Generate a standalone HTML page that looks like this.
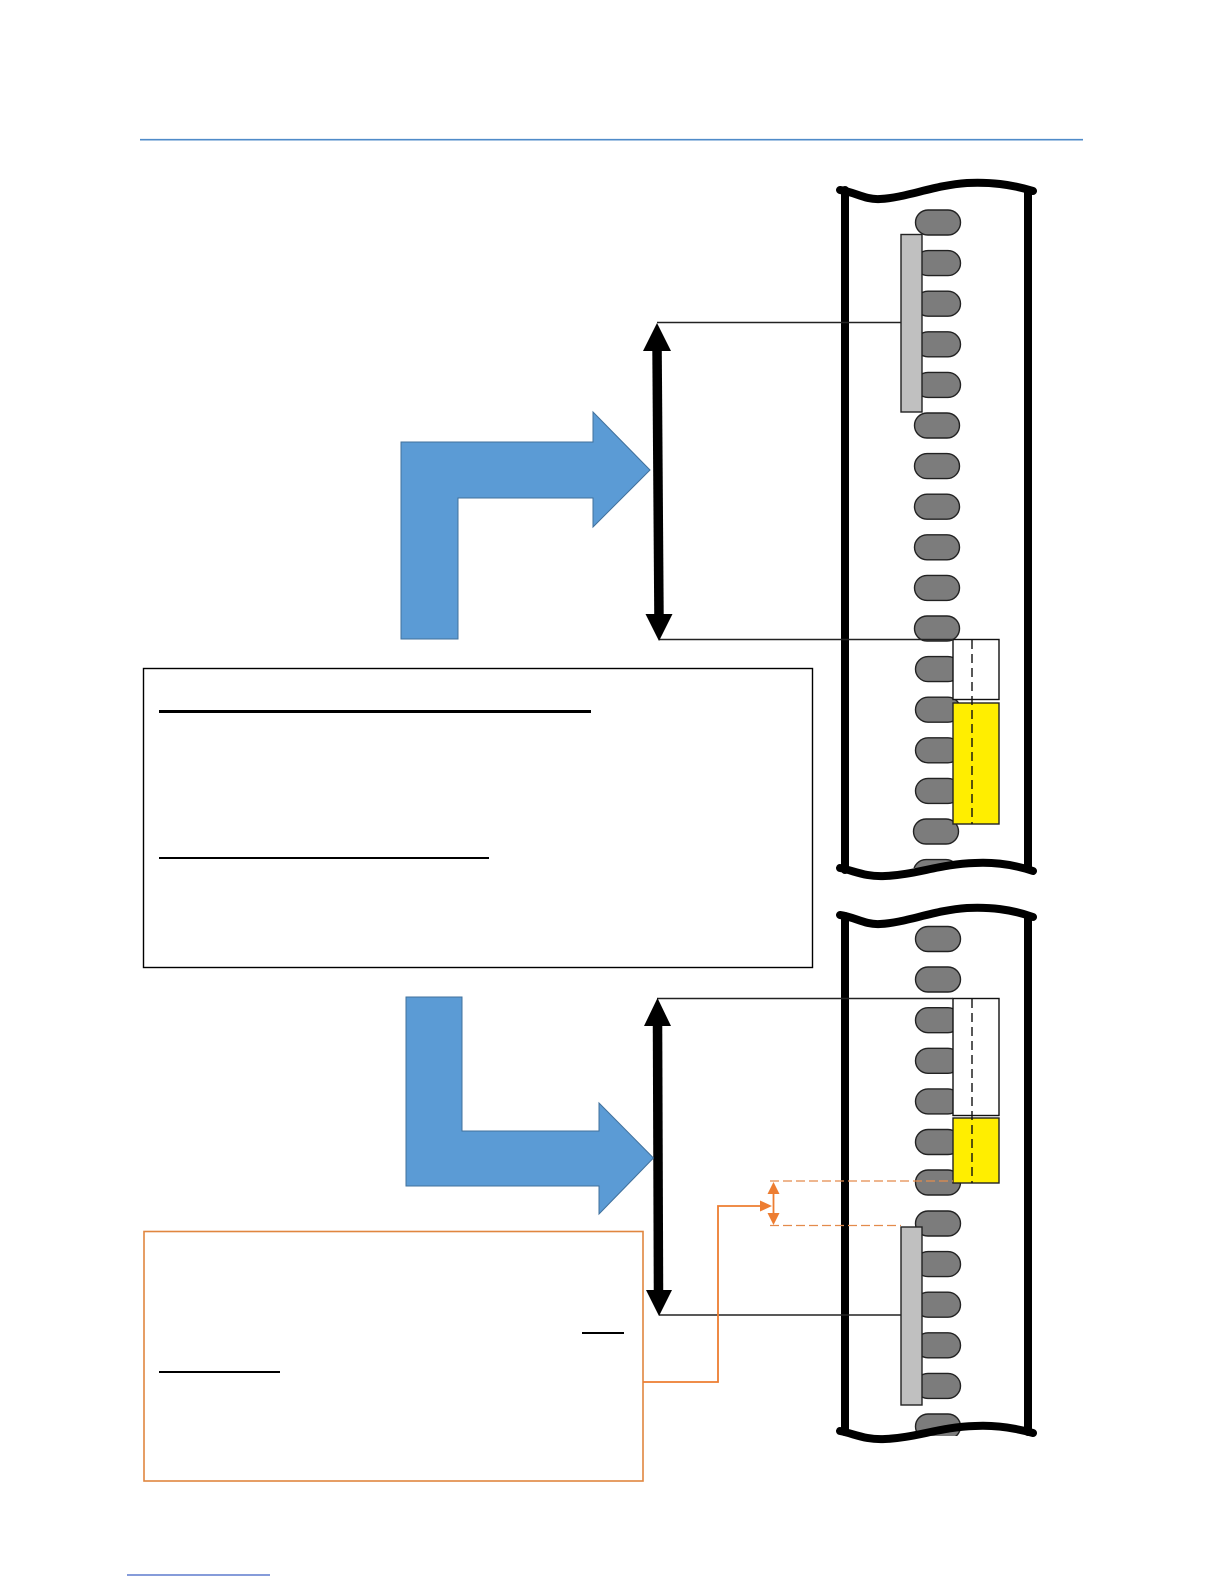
<!DOCTYPE html>
<html><head><meta charset="utf-8"><style>html,body{margin:0;padding:0;background:#fff}svg{display:block}</style></head><body>
<svg xmlns="http://www.w3.org/2000/svg" width="1224" height="1584" viewBox="0 0 1224 1584">
<defs>
<path id="p" d="M928 0H948A12.5 12.5 0 0 1 948 25H928A12.5 12.5 0 0 1 928 0Z" fill="#7c7c7c" stroke="#222" stroke-width="1.4"/>
</defs>
<rect width="1224" height="1584" fill="#fff"/>
<line x1="140" y1="139.7" x2="1083" y2="139.7" stroke="#4f8bc9" stroke-width="1.6"/>
<line x1="127" y1="1575" x2="270" y2="1575" stroke="#3f62c4" stroke-width="1.3"/>

<!-- pills tube 1 -->
<g>
<use href="#p" y="210"/><use href="#p" y="250.6"/><use href="#p" y="291.2"/><use href="#p" y="331.8"/><use href="#p" y="372.4"/><use href="#p" x="-1" y="413"/><use href="#p" x="-1" y="453.6"/><use href="#p" x="-1" y="494.2"/><use href="#p" x="-1" y="534.8"/><use href="#p" x="-1" y="575.4"/><use href="#p" x="-1" y="616"/><use href="#p" y="656.6"/><use href="#p" y="697.2"/><use href="#p" y="737.8"/><use href="#p" y="778.4"/><use href="#p" x="-2" y="819"/><use href="#p" x="-2" y="859.6"/>
</g>
<rect x="836" y="868" width="200" height="40" fill="#fff"/>
<!-- tube 1 -->
<g fill="none" stroke="#000" stroke-linecap="round">
<line x1="845" y1="190" x2="845" y2="870" stroke-width="8"/>
<line x1="1028" y1="190" x2="1028" y2="868" stroke-width="8"/>
<path d="M840 190C855 192 865 200 880 199C905 198 935 185 967 183C990 182 1010 184 1033 191" stroke-width="8"/>
<path d="M840 868C855 871 865 877 885 876C915 875 940 864 975 863C995 862 1015 865 1033 871" stroke-width="8"/>
</g>
<!-- pills tube 2 -->
<g>
<use href="#p" y="926.5"/><use href="#p" y="967"/><use href="#p" y="1007.7"/><use href="#p" y="1048.3"/><use href="#p" y="1088.9"/><use href="#p" y="1129.5"/><use href="#p" y="1170"/><use href="#p" y="1211"/><use href="#p" y="1251.6"/><use href="#p" y="1292.2"/><use href="#p" y="1332.8"/><use href="#p" y="1373.4"/><use href="#p" y="1414"/>
</g>
<rect x="836" y="1436" width="200" height="30" fill="#fff"/>
<!-- tube 2 -->
<g fill="none" stroke="#000" stroke-linecap="round">
<line x1="845" y1="916" x2="845" y2="1432" stroke-width="8"/>
<line x1="1028" y1="916" x2="1028" y2="1432" stroke-width="8"/>
<path d="M840 915C855 917 865 925 880 924C905 923 935 910 967 908C990 907 1010 909 1033 917" stroke-width="8"/>
<path d="M840 1431C855 1434 865 1440 885 1439C915 1438 940 1427 975 1426C995 1425 1015 1428 1033 1433" stroke-width="8"/>
</g>

<!-- bars -->
<rect x="901" y="234.5" width="21" height="177.5" fill="#c0c0c0" stroke="#222" stroke-width="1.4"/>
<rect x="901" y="1227" width="21" height="178" fill="#c0c0c0" stroke="#222" stroke-width="1.4"/>
<!-- white & yellow 1 -->
<rect x="953" y="639.5" width="46" height="60" fill="#fff" stroke="#111" stroke-width="1.4"/>
<rect x="953" y="703" width="46" height="121" fill="#ffee00" stroke="#222" stroke-width="1.4"/>
<line x1="972" y1="640" x2="972" y2="824" stroke="#111" stroke-width="1.4" stroke-dasharray="9 5"/>
<!-- white & yellow 2 -->
<rect x="953" y="998.5" width="46" height="117" fill="#fff" stroke="#111" stroke-width="1.4"/>
<rect x="953" y="1118" width="46" height="65" fill="#ffee00" stroke="#222" stroke-width="1.4"/>
<line x1="972" y1="999" x2="972" y2="1183" stroke="#111" stroke-width="1.4" stroke-dasharray="9 5"/>

<!-- leader lines -->
<g stroke="#222" stroke-width="1.4">
<line x1="657" y1="322.5" x2="901" y2="322.5"/>
<line x1="659" y1="639.5" x2="953" y2="639.5"/>
<line x1="657" y1="998.5" x2="953" y2="998.5"/>
<line x1="659" y1="1315" x2="901" y2="1315"/>
</g>

<!-- black double arrows -->
<g>
<line x1="657" y1="345" x2="659" y2="620" stroke="#000" stroke-width="9.5"/>
<polygon points="657,323 643,351 671,351" fill="#000"/>
<polygon points="659,641 645.5,614 672.5,614" fill="#000"/>
<line x1="657.5" y1="1020" x2="658.5" y2="1295" stroke="#000" stroke-width="9.5"/>
<polygon points="657.5,998 644,1026 671,1026" fill="#000"/>
<polygon points="659,1316 646,1290 672,1290" fill="#000"/>
</g>

<!-- blue arrows -->
<polygon points="401,442 593,442 593,412 650,470 593,527 593,498 458,498 458,639 401,639" fill="#5b9bd5" stroke="#41719c" stroke-width="1"/>
<polygon points="406,997 462,997 462,1131 599,1131 599,1103 653.5,1158 599,1214 599,1186 406,1186" fill="#5b9bd5" stroke="#41719c" stroke-width="1"/>

<!-- black text box -->
<rect x="143.5" y="668.5" width="669" height="299" fill="#fff" stroke="#000" stroke-width="1.4"/>
<rect x="159" y="710" width="432" height="3" fill="#000"/>
<rect x="159" y="857" width="330" height="2" fill="#000"/>

<!-- orange box -->
<rect x="144" y="1231.5" width="499" height="249.5" fill="#fff" stroke="#e0863f" stroke-width="1.6"/>
<rect x="582" y="1332" width="42" height="2" fill="#000"/>
<rect x="159" y="1371" width="121" height="2" fill="#000"/>

<!-- orange connector -->
<polyline points="643,1382 718,1382 718,1206 762,1206" fill="none" stroke="#ed7d31" stroke-width="1.8"/>
<polygon points="772,1206 760,1200.5 760,1211.5" fill="#ed7d31"/>
<line x1="773.5" y1="1192" x2="773.5" y2="1215" stroke="#ed7d31" stroke-width="1.8"/>
<polygon points="773.5,1182 767.5,1194 779.5,1194" fill="#ed7d31"/>
<polygon points="773.5,1225 767.5,1213 779.5,1213" fill="#ed7d31"/>
<line x1="770" y1="1181" x2="953" y2="1181" stroke="#e38b4c" stroke-width="1.2" stroke-dasharray="9 4"/>
<line x1="770" y1="1225.5" x2="901" y2="1225.5" stroke="#e38b4c" stroke-width="1.2" stroke-dasharray="9 4"/>
</svg>
</body></html>
